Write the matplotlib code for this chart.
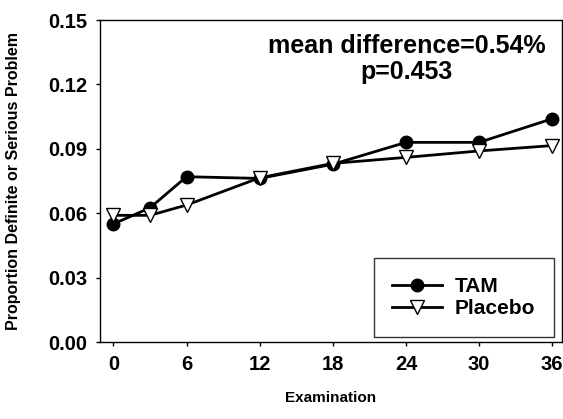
import matplotlib
matplotlib.use("Agg")
import matplotlib.pyplot as plt

plt.rcParams['font.family'] = ['Liberation Sans', 'DejaVu Sans']
plt.rcParams['font.weight'] = 'bold'

exam = [0, 3, 6, 12, 18, 24, 30, 36]
tam = [0.055, 0.0625, 0.077, 0.0762, 0.0828, 0.093, 0.093, 0.104]
placebo = [0.059, 0.059, 0.0638, 0.0765, 0.0832, 0.086, 0.089, 0.0915]
xticks = [0, 6, 12, 18, 24, 30, 36]
yticks = [0.00, 0.03, 0.06, 0.09, 0.12, 0.15]
annot1 = "mean difference=0.54%"
annot2 = "p=0.453"

fig = plt.figure(figsize=(5.63, 4.19), dpi=100)
ax = fig.add_axes([100/563, 77/419, 462/563, 322/419])

ax.plot(exam, tam, color='black', lw=2.0, marker='o', ms=9,
        mfc='black', mec='black', label='TAM', zorder=3)
ax.plot(exam, placebo, color='black', lw=2.0, marker='v', ms=10,
        mfc='white', mec='black', mew=1.0, label='Placebo', zorder=4)

ax.set_xlim(-1.1, 36.8)
ax.set_ylim(0, 0.15)
ax.set_xticks(xticks)
ax.set_xticklabels([str(v) for v in xticks])
ax.set_yticks(yticks)
ax.set_yticklabels([f"{v:.2f}" for v in yticks])
ax.tick_params(axis='both', direction='out', length=3, width=1,
               labelsize=14.5, colors='black', pad=6)
for lab in ax.get_xticklabels() + ax.get_yticklabels():
    lab.set_fontweight('bold')
for sp in ax.spines.values():
    sp.set_linewidth(1.0)
    sp.set_color('black')

ax.set_xlabel('Examination', fontsize=11, fontweight='bold')
ax.xaxis.set_label_coords(0.5, -0.152)
ax.set_ylabel('Proportion Definite or Serious Problem', fontsize=11.5,
              fontweight='bold')
ax.yaxis.set_label_coords(-0.17, 0.5)

ax.text(0.664, 0.919, annot1, transform=ax.transAxes, ha='center',
        va='center', fontsize=18, fontweight='bold')
ax.text(0.664, 0.839, annot2, transform=ax.transAxes, ha='center',
        va='center', fontsize=18, fontweight='bold')

leg = ax.legend(loc='lower right', bbox_to_anchor=(0.983, 0.0155),
                prop={'size': 15, 'weight': 'bold'}, frameon=True,
                fancybox=False, edgecolor='black', handlelength=2.4,
                borderpad=0.9, labelspacing=0.15, handletextpad=0.6,
                borderaxespad=0)
leg.get_frame().set_linewidth(1.0)

fig.savefig('out.png', dpi=100)
